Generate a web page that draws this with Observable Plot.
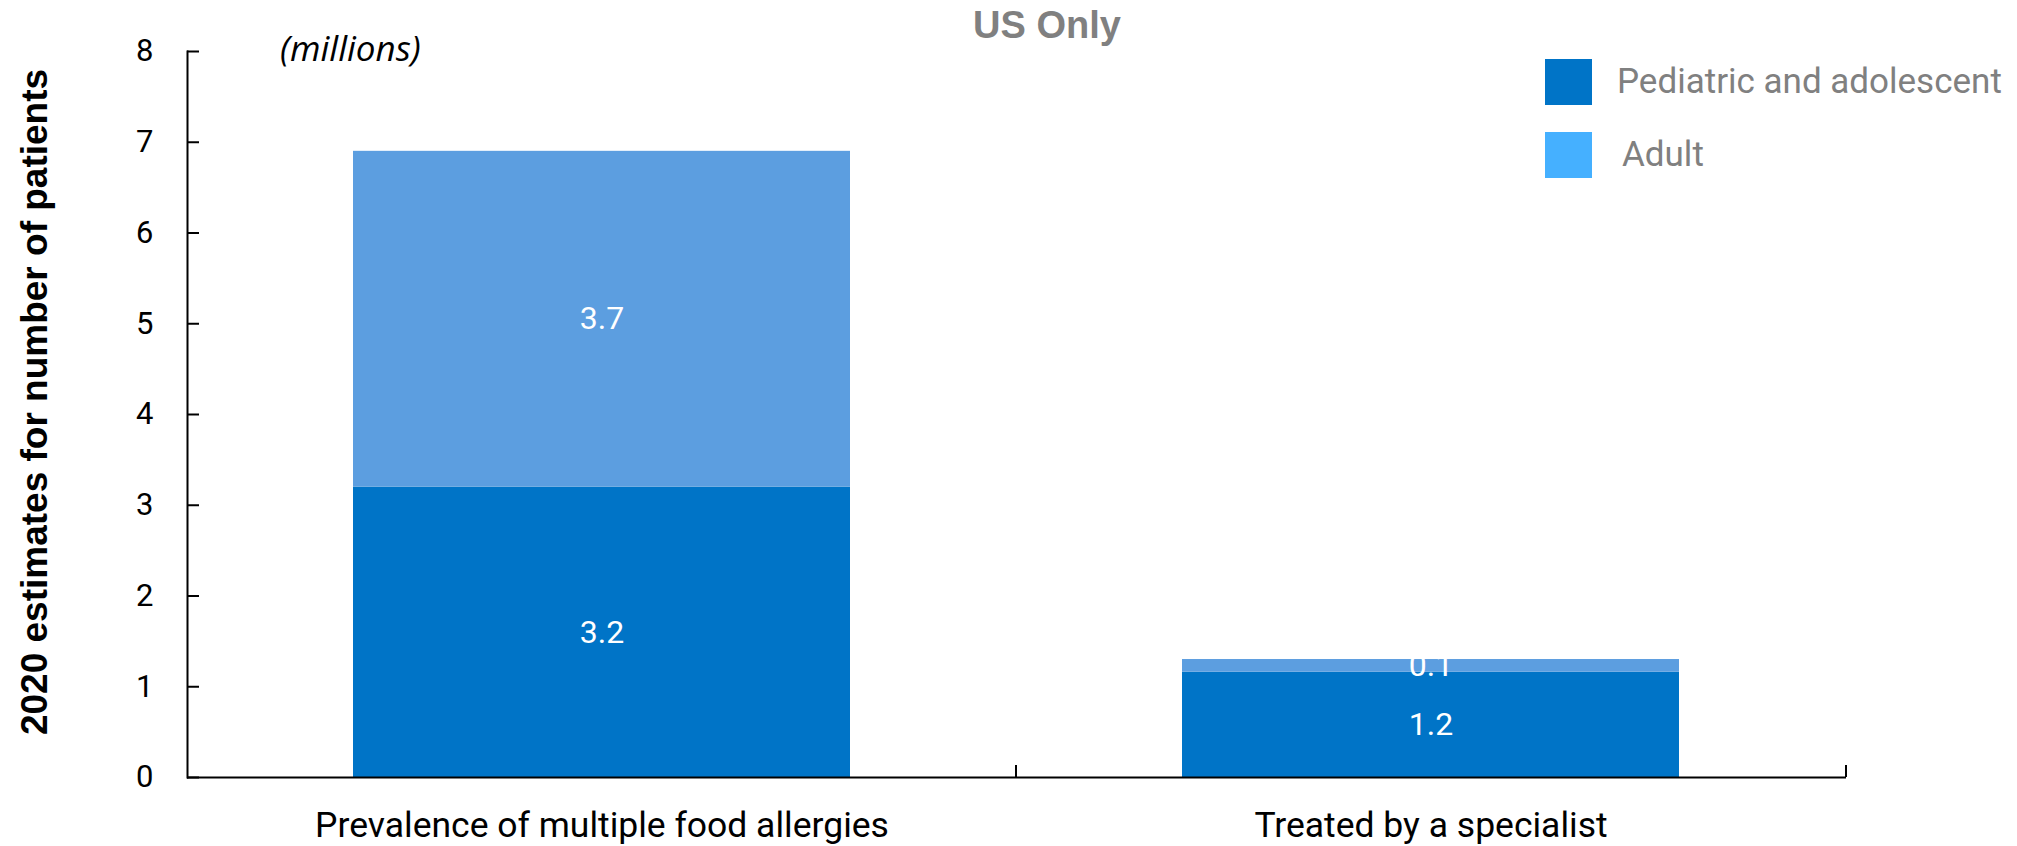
<!DOCTYPE html>
<html><head><meta charset="utf-8">
<script src="https://cdn.jsdelivr.net/npm/d3@7"></script>
<script src="https://cdn.jsdelivr.net/npm/@observablehq/plot@0.6"></script>
<style>
body{margin:0;background:#fff;}
#wrap{position:relative;width:2017px;height:846px;}
#overlay{position:absolute;left:0;top:0;pointer-events:none;}
</style></head><body><div id="wrap"></div>
<script>
// ---- data ----
const categories = ["Prevalence of multiple food allergies", "Treated by a specialist"];
const groups = ["Pediatric and adolescent", "Adult"];
const pediatricValues = [3.2, 1.16];
const adultValues = [3.7, 0.14];
const yTicks = [0, 1, 2, 3, 4, 5, 6, 7, 8];
const barColors = ["#0074C7", "#5C9EE0"];
const legendColors = ["#0074C7", "#45B0FF"];
const titleText = "US Only";
const unitNote = "(millions)";
const yTitle = "2020 estimates for number of patients";

const rows = [];
categories.forEach((c, i) => {
  rows.push({category: c, group: groups[0], value: pediatricValues[i]});
  rows.push({category: c, group: groups[1], value: adultValues[i]});
});
const fmt = d3.format(".1f");

const W = 2017, H = 846, mL = 187, mR = 171, mT = 51, mB = 69;

// ticks at band boundaries on the x axis (pointing up)
function boundaryTicks(index, scales, values, dims) {
  const x = scales.x;
  const bw = typeof x.bandwidth === "function" ? x.bandwidth() : x.bandwidth;
  const centers = categories.map(c => x(c) + bw / 2);
  const bounds = [];
  for (let i = 0; i < centers.length - 1; i++) bounds.push((centers[i] + centers[i + 1]) / 2);
  bounds.push(dims.width - dims.marginRight);
  const y0 = scales.y(0);
  const g = d3.create("svg:g");
  g.selectAll("line").data(bounds).join("line")
    .attr("x1", d => d).attr("x2", d => d)
    .attr("y1", y0).attr("y2", y0 - 12)
    .attr("stroke", "black").attr("stroke-width", 2);
  return g.node();
}

const chart = Plot.plot({
  width: W, height: H,
  marginLeft: mL, marginRight: mR, marginTop: mT, marginBottom: mB,
  style: {fontFamily: "Roboto, sans-serif", background: "white", color: "black"},
  x: {domain: categories, paddingInner: 0.4, paddingOuter: 0.2, label: null},
  y: {domain: [0, 8], label: null},
  color: {domain: groups, range: barColors},
  marks: [
    Plot.barY(rows, {x: "category", y: "value", fill: "group"}),
    Plot.text(rows, Plot.stackY({x: "category", y: "value", z: "group",
      text: d => fmt(d.value), fill: "white", fontSize: 32})),
    Plot.axisY({ticks: yTicks, tickSize: 0, tickPadding: 34, fontSize: 31,
      tickFormat: d => String(d), label: null}),
    Plot.axisY({ticks: yTicks, tickSize: -12, tickFormat: () => "", label: null, strokeWidth: 2}),
    Plot.axisX({tickSize: 0, tickPadding: 34, fontSize: 35.5, label: null}),
    Plot.frame({anchor: "left", strokeWidth: 2}),
    Plot.ruleY([0], {strokeWidth: 2}),
    boundaryTicks
  ]
});

const wrap = document.getElementById("wrap");
wrap.appendChild(chart);

// overlay: title, unit note, y title, legend
const ov = d3.select(wrap).append("svg").attr("id", "overlay")
  .attr("width", W).attr("height", H);
ov.append("text").text(titleText)
  .attr("x", 1047).attr("y", 38).attr("text-anchor", "middle")
  .attr("font-family", "'Liberation Sans', Arial, sans-serif").attr("font-weight", "bold")
  .attr("font-size", 38).attr("fill", "#808080");
ov.append("text").text(unitNote)
  .attr("x", 280).attr("y", 61)
  .attr("font-family", "'Open Sans', sans-serif").attr("font-style", "italic")
  .attr("font-size", 35).attr("fill", "black");
ov.append("text").text(yTitle)
  .attr("transform", "translate(47,402) rotate(-90)").attr("text-anchor", "middle")
  .attr("font-family", "'Liberation Sans', Arial, sans-serif").attr("font-weight", "bold")
  .attr("font-size", 37).attr("fill", "black");
const leg = ov.append("g");
const legY = [59, 132];
groups.forEach((g, i) => {
  leg.append("rect").attr("x", 1545).attr("y", legY[i]).attr("width", 47).attr("height", 46)
    .attr("fill", legendColors[i]);
  leg.append("text").text(g).attr("x", i === 0 ? 1617 : 1622).attr("y", legY[i] + 34)
    .attr("font-family", "Roboto, sans-serif").attr("font-size", 35).attr("fill", "#808080");
});
</script></body></html>
